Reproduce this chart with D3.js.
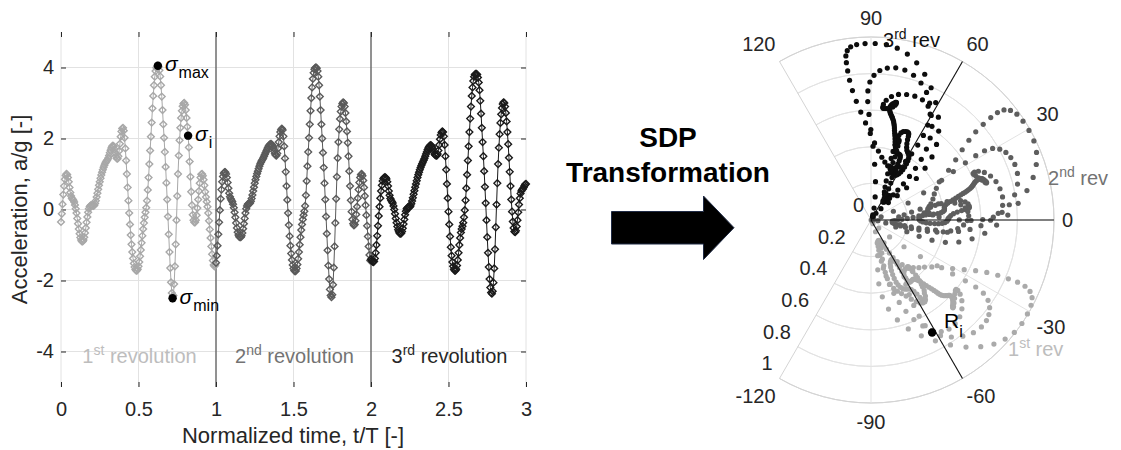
<!DOCTYPE html>
<html>
<head>
<meta charset="utf-8">
<script src="https://cdn.jsdelivr.net/npm/d3@7"></script>
<style>
  body { margin: 0; background: #fff; }
  svg { font-family: "Liberation Sans", Arial, sans-serif; }
</style>
</head>
<body>
<svg width="1121" height="450"></svg>
<script>
// sampling step of the acceleration record (in t/T)
var tStep = 0.005;

// a/g over each revolution
var rev1 = [
  -0.35,-0.12,0.15,0.42,0.66,0.85,0.96,1.00,0.98,0.90,0.78,0.62,0.48,0.38,0.32,0.29,0.26,0.21,0.13,0.02,
  -0.10,-0.25,-0.40,-0.55,-0.68,-0.79,-0.86,-0.90,-0.90,-0.86,-0.78,-0.66,-0.52,-0.36,-0.21,-0.08,0.02,0.08,0.11,0.12,
  0.12,0.11,0.10,0.12,0.17,0.25,0.35,0.46,0.57,0.68,0.78,0.88,0.97,1.05,1.12,1.19,1.25,1.30,1.34,1.37,
  1.40,1.45,1.52,1.60,1.67,1.73,1.78,1.80,1.78,1.70,1.60,1.50,1.44,1.43,1.50,1.65,1.85,2.05,2.20,2.28,
  2.30,2.22,2.02,1.72,1.38,1.00,0.62,0.25,-0.10,-0.42,-0.72,-0.98,-1.20,-1.38,-1.52,-1.62,-1.69,-1.72,-1.72,-1.68,
  -1.60,-1.48,-1.32,-1.14,-0.94,-0.74,-0.55,-0.38,-0.22,-0.08,0.05,0.25,0.55,0.90,1.28,1.66,2.05,2.45,2.85,3.20,
  3.50,3.74,3.90,3.99,4.03,4.05,4.02,3.92,3.75,3.50,3.18,2.80,2.40,2.02,1.62,1.20,0.75,0.28,-0.20,-0.70,
  -1.20,-1.65,-2.05,-2.35,-2.50,-2.42,-2.10,-1.60,-0.98,-0.30,0.38,1.00,1.52,1.95,2.30,2.58,2.78,2.91,2.98,3.00,
  2.95,2.80,2.58,2.33,2.08,1.75,1.35,0.92,0.50,0.12,-0.15,-0.30,-0.36,-0.36,-0.30,-0.16,0.04,0.28,0.52,0.74,
  0.90,0.99,1.00,0.95,0.84,0.68,0.50,0.35,0.22,0.08,-0.10,-0.32,-0.56,-0.80,-1.04,-1.26,-1.44,-1.56,-1.60,-1.56
];
var rev2 = [
  -1.50,-1.30,-1.02,-0.70,-0.36,-0.02,0.30,0.56,0.78,0.93,1.02,1.05,1.05,1.00,0.90,0.76,0.60,0.46,0.36,0.30,
  0.26,0.22,0.15,0.05,-0.08,-0.22,-0.38,-0.52,-0.64,-0.72,-0.77,-0.78,-0.78,-0.74,-0.66,-0.54,-0.40,-0.25,-0.10,0.02,
  0.10,0.15,0.16,0.16,0.18,0.23,0.31,0.41,0.52,0.63,0.74,0.84,0.93,1.01,1.08,1.15,1.22,1.28,1.33,1.37,
  1.41,1.45,1.50,1.55,1.60,1.65,1.70,1.75,1.79,1.82,1.84,1.85,1.83,1.80,1.73,1.64,1.57,1.53,1.52,1.58,
  1.72,1.90,2.06,2.18,2.25,2.28,2.24,2.06,1.78,1.44,1.06,0.66,0.27,-0.10,-0.44,-0.75,-1.02,-1.24,-1.42,-1.56,
  -1.66,-1.72,-1.74,-1.73,-1.66,-1.55,-1.39,-1.20,-0.99,-0.78,-0.58,-0.42,-0.28,-0.16,-0.05,0.10,0.40,0.80,1.22,1.62,
  2.02,2.40,2.78,3.14,3.44,3.68,3.85,3.95,3.99,4.00,3.98,3.90,3.74,3.50,3.18,2.80,2.40,2.00,1.60,1.18,
  0.74,0.28,-0.20,-0.68,-1.15,-1.58,-1.96,-2.25,-2.42,-2.47,-2.40,-2.12,-1.64,-1.04,-0.38,0.30,0.92,1.45,1.90,2.26,
  2.55,2.76,2.90,2.98,3.02,3.00,2.90,2.72,2.48,2.20,1.88,1.50,1.08,0.66,0.26,-0.06,-0.28,-0.40,-0.45,-0.42,
  -0.32,-0.14,0.08,0.32,0.56,0.76,0.90,0.98,1.00,0.95,0.82,0.62,0.38,0.12,-0.16,-0.46,-0.76,-1.04,-1.28,-1.44
];
var rev3 = [
  -1.40,-1.44,-1.47,-1.48,-1.46,-1.38,-1.22,-1.00,-0.74,-0.46,-0.18,0.08,0.32,0.52,0.68,0.80,0.87,0.90,0.91,0.90,
  0.86,0.78,0.66,0.52,0.40,0.31,0.26,0.22,0.18,0.10,0.00,-0.12,-0.25,-0.37,-0.48,-0.57,-0.63,-0.67,-0.68,-0.67,
  -0.62,-0.53,-0.41,-0.28,-0.15,-0.05,0.02,0.05,0.06,0.06,0.07,0.10,0.16,0.24,0.33,0.43,0.53,0.63,0.72,0.81,
  0.90,0.98,1.05,1.12,1.18,1.24,1.29,1.34,1.39,1.44,1.50,1.56,1.62,1.68,1.73,1.77,1.80,1.81,1.80,1.76,
  1.70,1.62,1.56,1.53,1.52,1.52,1.56,1.66,1.82,1.98,2.10,2.17,2.20,2.18,2.06,1.82,1.50,1.12,0.72,0.32,
  -0.06,-0.42,-0.76,-1.06,-1.30,-1.48,-1.60,-1.68,-1.72,-1.72,-1.68,-1.58,-1.42,-1.22,-1.00,-0.80,-0.65,-0.55,-0.47,-0.37,
  -0.22,-0.02,0.26,0.60,0.98,1.38,1.78,2.18,2.56,2.90,3.20,3.44,3.62,3.74,3.80,3.82,3.82,3.80,3.72,3.58,
  3.36,3.06,2.70,2.30,1.90,1.50,1.08,0.64,0.18,-0.30,-0.78,-1.22,-1.62,-1.96,-2.20,-2.34,-2.37,-2.30,-2.06,-1.66,
  -1.12,-0.50,0.14,0.74,1.28,1.74,2.12,2.44,2.68,2.86,2.97,3.02,3.00,2.90,2.72,2.48,2.18,1.84,1.46,1.06,
  0.66,0.28,-0.06,-0.34,-0.52,-0.62,-0.64,-0.60,-0.48,-0.30,-0.08,0.14,0.32,0.45,0.52,0.56,0.58,0.62,0.67,0.71,0.72
];

var revNames = ["1st", "2nd", "3rd"];
var xTicks = [0, 0.5, 1, 1.5, 2, 2.5, 3];
var yTicks = [-4, -2, 0, 2, 4];
var revBounds = [1, 2];

// annotated samples of the 1st revolution (t/T)
var sigmaNames = ["max", "i", "min"];
var sigmaTimes = [0.625, 0.82, 0.72];

// SDP transform settings and polar ticks
var sdpLag = 6;
var sdpGain = 60;
var sdpStart = [-83, -19, 41];
var mirrorAngles = [-60, 0, 60];
var angleTicks = [-120, -90, -60, -30, 0, 30, 60, 90, 120];
var radiusTicks = [0, 0.2, 0.4, 0.6, 0.8, 1];

var revColors = ["#a8a8a8", "#5a5a5a", "#1a1a1a"];
var dotColors = ["#aaaaaa", "#5e5e5e", "#0d0d0d"];
var labelColors = ["#bdbdbd", "#737373", "#262626"];
var ink = "#262626";

var svg = d3.select("svg");

// ---------- time history ----------
var x = d3.scaleLinear().domain([0, 3]).range([61, 526]);
var y = d3.scaleLinear().domain([-5, 5]).range([387, 32]);
var left = svg.append("g");

left.selectAll(".gx").data(xTicks).enter().append("line")
  .attr("x1", d => x(d)).attr("x2", d => x(d))
  .attr("y1", y(-5)).attr("y2", y(5))
  .attr("stroke", "#e2e2e2");
left.selectAll(".gy").data(yTicks).enter().append("line")
  .attr("x1", x(0)).attr("x2", x(3))
  .attr("y1", d => y(d)).attr("y2", d => y(d))
  .attr("stroke", "#e2e2e2");

function styleAxis(g) {
  g.select(".domain").remove();
  g.selectAll(".tick line").attr("stroke", ink);
  g.selectAll(".tick text").attr("fill", ink).style("font-size", "20px")
    .style("font-family", '"Liberation Sans", Arial, sans-serif');
}
left.append("g").attr("transform", "translate(0," + y(-5) + ")")
  .call(d3.axisBottom(x).tickValues(xTicks).tickSizeInner(-5).tickSizeOuter(0).tickPadding(15).tickFormat(d => d))
  .call(styleAxis);
left.append("g").attr("transform", "translate(0," + y(5) + ")")
  .call(d3.axisTop(x).tickValues(xTicks).tickSizeInner(-5).tickSizeOuter(0).tickFormat(""))
  .call(styleAxis);
left.append("g").attr("transform", "translate(" + x(0) + ",0)")
  .call(d3.axisLeft(y).tickValues(yTicks).tickSizeInner(-5).tickSizeOuter(0).tickPadding(7).tickFormat(d => d))
  .call(styleAxis);
left.append("g").attr("transform", "translate(" + x(3) + ",0)")
  .call(d3.axisRight(y).tickValues(yTicks).tickSizeInner(-5).tickSizeOuter(0).tickFormat(""))
  .call(styleAxis);

left.selectAll(".sep").data(revBounds).enter().append("line")
  .attr("x1", d => x(d)).attr("x2", d => x(d))
  .attr("y1", y(-5)).attr("y2", y(5))
  .attr("stroke", "#333");

// square diamond, like matlab 'd'
var diamond = {
  draw: function(ctx, size) {
    var r = Math.sqrt(size) / 2;
    ctx.moveTo(0, -r); ctx.lineTo(r, 0); ctx.lineTo(0, r); ctx.lineTo(-r, 0); ctx.closePath();
  }
};
var revs = [rev1, rev2, rev3];
var series = revs.map((vals, k) => vals.map((v, j) => ({ t: k + j * tStep, v: v })));
var line = d3.line().x(d => x(d.t)).y(d => y(d.v));

series.forEach(function(pts, k) {
  var g = left.append("g");
  g.append("path").attr("d", line(pts)).attr("fill", "none")
    .attr("stroke", revColors[k]).attr("stroke-width", 1);
  g.selectAll("path.m").data(pts).enter().append("path")
    .attr("class", "m")
    .attr("transform", d => "translate(" + x(d.t) + "," + y(d.v) + ")")
    .attr("d", d3.symbol().type(diamond).size(46))
    .attr("fill", "none").attr("stroke", revColors[k]).attr("stroke-width", 1.4);
});

// sigma markers on the first revolution
sigmaTimes.forEach(function(t, i) {
  var v = rev1[Math.round(t / tStep)];
  left.append("circle").attr("cx", x(t)).attr("cy", y(v)).attr("r", 4.2).attr("fill", "#000");
  var txt = left.append("text").attr("x", x(t) + 7).attr("y", y(v) + 5.5)
    .attr("fill", "#000").style("font-size", "21px");
  txt.append("tspan").style("font-style", "italic").text("σ");
  txt.append("tspan").attr("dx", 1).attr("dy", 7).style("font-size", "16px").text(sigmaNames[i]);
});

revNames.forEach(function(name, k) {
  var txt = left.append("text").attr("x", x(k + 0.5) + 1).attr("y", 363)
    .attr("text-anchor", "middle").attr("fill", labelColors[k]).style("font-size", "20px");
  txt.append("tspan").text(name.slice(0, 1));
  txt.append("tspan").attr("dy", -8.5).style("font-size", "14px").text(name.slice(1));
  txt.append("tspan").attr("dy", 8.5).text(" revolution");
});

left.append("text").attr("x", 293).attr("y", 443).attr("text-anchor", "middle")
  .attr("fill", ink).style("font-size", "22px").text("Normalized time, t/T [-]");
left.append("text").attr("transform", "translate(26.5," + y(0) + ") rotate(-90)")
  .attr("text-anchor", "middle").attr("fill", ink).style("font-size", "22px")
  .text("Acceleration, a/g [-]");

// ---------- arrow ----------
svg.append("text").attr("x", 668).attr("y", 147).attr("text-anchor", "middle")
  .style("font-size", "28px").style("font-weight", "bold").text("SDP");
svg.append("text").attr("x", 668).attr("y", 182).attr("text-anchor", "middle")
  .style("font-size", "28px").style("font-weight", "bold").text("Transformation");
svg.append("path")
  .attr("d", "M611.5,211.5 H703.5 V196 L734,227.7 L703.5,259.5 V244 H611.5 Z")
  .attr("fill", "#000").attr("stroke", "#1f2a44").attr("stroke-width", 1);

// ---------- SDP polar plot ----------
var cx = 871, cy = 220;
var rad = d3.scaleLinear().domain([0, 1]).range([0, 183]);
var ang = d3.scaleLinear().domain([0, 90]).range([Math.PI / 2, 0]);   // degrees -> d3 radial angle
var polar = svg.append("g").attr("transform", "translate(" + cx + "," + cy + ")");

var allValues = rev1.concat(rev2, rev3);
var norm = d3.scaleLinear().domain(d3.extent(allValues)).range([0, 1]);

radiusTicks.filter(d => d > 0).forEach(function(r) {
  polar.append("path")
    .attr("d", d3.arc().innerRadius(rad(r)).outerRadius(rad(r))
      .startAngle(ang(120)).endAngle(ang(-120))())
    .attr("fill", "none").attr("stroke", r === 1 ? "#d4d4d4" : "#e3e3e3");
});
polar.selectAll(".spoke").data(angleTicks).enter().append("line")
  .attr("x2", d => d3.pointRadial(ang(d), rad(1))[0])
  .attr("y2", d => d3.pointRadial(ang(d), rad(1))[1])
  .attr("stroke", d => Math.abs(d) === 120 ? "#d4d4d4" : "#e3e3e3");

var offsets = [0, rev1.length, rev1.length + rev2.length];
revs.forEach(function(vals, k) {
  var pts = [];
  vals.forEach(function(v, j) {
    var gi = offsets[k] + j;
    if (gi + sdpLag >= allValues.length) return;
    pts.push({ r: norm(v), a: sdpStart[k] + sdpGain * norm(allValues[gi + sdpLag]) });
  });
  polar.append("g").selectAll("circle").data(pts).enter().append("circle")
    .attr("cx", d => d3.pointRadial(ang(d.a), rad(d.r))[0])
    .attr("cy", d => d3.pointRadial(ang(d.a), rad(d.r))[1])
    .attr("r", 2.6).attr("fill", dotColors[k]);
});

polar.selectAll(".mirror").data(mirrorAngles).enter().append("line")
  .attr("x2", d => d3.pointRadial(ang(d), rad(1))[0])
  .attr("y2", d => d3.pointRadial(ang(d), rad(1))[1])
  .attr("stroke", "#111").attr("stroke-width", 1.1);

// R_i = SDP image of sigma_i
var iSig = Math.round(sigmaTimes[1] / tStep);
var ri = d3.pointRadial(ang(sdpStart[0] + sdpGain * norm(allValues[iSig + sdpLag])), rad(norm(rev1[iSig])));
polar.append("circle").attr("cx", ri[0]).attr("cy", ri[1]).attr("r", 4.2).attr("fill", "#000");
var rt = polar.append("text").attr("x", ri[0] + 12).attr("y", ri[1] - 4).style("font-size", "21px");
rt.append("tspan").text("R");
rt.append("tspan").attr("dy", 9).style("font-size", "16px").text("i");

// angle labels sit outside the rim, nearest corner touching it
angleTicks.forEach(function(a) {
  var t = polar.append("text").attr("text-anchor", "middle").attr("dy", "0.35em")
    .attr("fill", ink).style("font-size", "20px").text(a);
  var w = t.node().getComputedTextLength();
  var c = Math.cos(a * Math.PI / 180), s = Math.sin(a * Math.PI / 180);
  var p = d3.pointRadial(ang(a), rad(1) + 8);
  var ox = Math.abs(c) > 0.01 ? Math.sign(c) * w / 2 : 0;
  var oy = Math.abs(s) > 0.01 ? -Math.sign(s) * 11 : 0;
  t.attr("x", p[0] + ox).attr("y", p[1] + oy);
});
radiusTicks.forEach(function(r) {
  var p = d3.pointRadial(ang(-120), rad(r));
  polar.append("text").attr("x", p[0] - 7).attr("y", p[1] - 15).attr("dy", "0.35em")
    .attr("text-anchor", "end").attr("fill", ink).style("font-size", "20px").text(r);
});

// revolution tags
var tagPos = [[1008, 356], [1048, 185], [883, 47]];
revNames.forEach(function(name, k) {
  var t = svg.append("text").attr("x", tagPos[k][0]).attr("y", tagPos[k][1])
    .attr("fill", k === 2 ? "#111" : labelColors[k]).style("font-size", "20px");
  t.append("tspan").text(name.slice(0, 1));
  t.append("tspan").attr("dy", -8.5).style("font-size", "14px").text(name.slice(1));
  t.append("tspan").attr("dy", 8.5).text(" rev");
});
</script>
</body>
</html>
